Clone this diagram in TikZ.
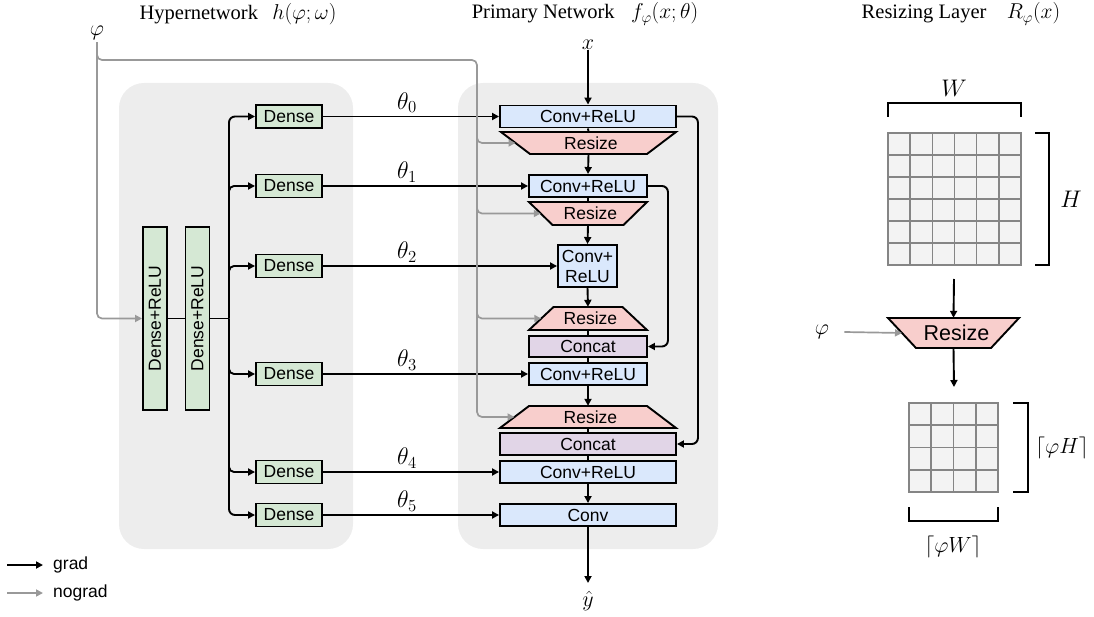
\RequirePackage{fix-cm}
\documentclass[tikz,border=0pt]{standalone}
\usepackage{fontspec}
\setmainfont{Liberation Serif}
\setsansfont{Liberation Sans}
\usetikzlibrary{arrows.meta,calc}
\definecolor{convc}{HTML}{DAE8FC}
\definecolor{resc}{HTML}{F8CECC}
\definecolor{catc}{HTML}{E1D5E7}
\definecolor{denc}{HTML}{D5E8D4}
\definecolor{bgc}{HTML}{EDEDED}
\definecolor{grayc}{HTML}{999999}
\definecolor{gridf}{HTML}{F3F3F3}
\definecolor{gridl}{HTML}{858585}
\newcommand\sfs{\fontsize{17.5}{20}\selectfont\sffamily}
\newcommand\sfb{\fontsize{21.5}{24}\selectfont\sffamily}
\newcommand\bigs{\fontsize{20.5}{24}\selectfont}
\newcommand\mths{\fontsize{22}{26}\selectfont}
\newcommand\mthb{\fontsize{24}{28}\selectfont}
\newcommand\trapz[7]{%
  \draw[line width=1.9pt, fill=resc] ({#2-#4/2},{#3-#6/2}) -- ({#2+#4/2},{#3-#6/2}) -- ({#2+#5/2},{#3+#6/2}) -- ({#2-#5/2},{#3+#6/2}) -- cycle;
  \node[inner sep=0pt, minimum width={max(#4,#5)}, minimum height=#6] (#1) at (#2,#3) {#7 Resize};
  \coordinate (#1-l) at ({#2-(#4+#5)/4},#3);
}
\begin{document}
\begin{tikzpicture}[x=1pt,y=-1pt,
  box/.style={draw=black, line width=1.9pt, inner sep=0pt, font=\sfs},
  conv/.style={box, fill=convc},
  cat/.style={box, fill=catc},
  dens/.style={box, fill=denc, minimum width=66, minimum height=23},
  arr/.style={line width=1.9pt, -{Triangle[length=7pt,width=7pt]}},
  ln/.style={line width=1.9pt},
  garr/.style={line width=1.7pt, draw=grayc, -{Triangle[length=7pt,width=7pt]}, rounded corners=5pt},
  mlab/.style={font=\mths, inner sep=0pt},
  tlab/.style={font=\mthb, inner sep=0pt},
  ttl/.style={font=\bigs, inner sep=0pt},
  bg/.style={fill=bgc, rounded corners=25pt},
  gridline/.style={draw=gridl, line width=1.5pt},
  brk/.style={line width=2pt}
]
\useasboundingbox (0,0) rectangle (1094,617);
% backgrounds
\fill[bg] (119,83) rectangle (353,549);
\fill[bg] (458,83) rectangle (718,549);
% titles
\node[ttl] (t1) at (238,14) {Hypernetwork\hspace{0.7em}{\fontsize{21.5}{24}\selectfont$h(\varphi;\omega)$}};
\node[ttl] (t2) at (585,14) {Primary Network\hspace{0.8em}{\fontsize{21.5}{24}\selectfont$f_\varphi(x;\theta)$}};
\node[ttl] (t3) at (961,14) {Resizing Layer\hspace{1em}{\fontsize{21.5}{24}\selectfont$R_\varphi(x)$}};
% hypernetwork
\node[mlab, inner sep=2pt] (phi) at (97,33) {$\varphi$};
\node[dens, rotate=90, minimum width=183, minimum height=24] (dr1) at (155,318.5) {Dense+ReLU};
\node[dens, rotate=90, minimum width=183, minimum height=24] (dr2) at (197.5,318.5) {Dense+ReLU};
\node[dens] (d1) at (289,116.5) {Dense};
\node[dens] (d2) at (289,186) {Dense};
\node[dens] (d3) at (289,266) {Dense};
\node[dens] (d4) at (289,374) {Dense};
\node[dens] (d5) at (289,472) {Dense};
\node[dens] (d6) at (289,515) {Dense};
% primary network
\node[mlab] (x) at (588,45) {$x$};
\node[conv, minimum width=176, minimum height=22] (c1) at (588,116.5) {Conv+ReLU};
\trapz{r1}{588.5}{143}{175}{117}{22}{\sfs}
\node[conv, minimum width=118, minimum height=22] (c2) at (588,186) {Conv+ReLU};
\trapz{r2}{588}{213.5}{118}{71}{23}{\sfs}
\node[conv, minimum width=59, minimum height=42, align=center] (c3) at (587.5,266) {Conv+\\ReLU};
\trapz{r3}{588}{318.5}{69}{118}{23}{\sfs}
\node[cat, minimum width=118, minimum height=21] (k1) at (588,346.5) {Concat};
\node[conv, minimum width=118, minimum height=22] (c4) at (588,374) {Conv+ReLU};
\trapz{r4}{588}{417}{118}{176}{22}{\sfs}
\node[cat, minimum width=176, minimum height=22] (k2) at (588,444) {Concat};
\node[conv, minimum width=176, minimum height=22] (c5) at (588,472) {Conv+ReLU};
\node[conv, minimum width=176, minimum height=22] (c6) at (588,515) {Conv};
\node[mlab] (yh) at (588,601) {$\hat{y}$};
\coordinate (yin) at (588,583);
% primary connectors
\draw[arr] (x.south) -- (c1.north);
\draw[ln] (c1.south) -- (r1.north);
\draw[arr] (r1.south) -- (c2.north);
\draw[ln] (c2.south) -- (r2.north);
\draw[arr] (r2.south) -- (c3.north);
\draw[arr] (c3.south) -- (r3.north);
\draw[ln] (r3.south) -- (k1.north);
\draw[ln] (k1.south) -- (c4.north);
\draw[arr] (c4.south) -- (r4.north);
\draw[ln] (r4.south) -- (k2.north);
\draw[ln] (k2.south) -- (c5.north);
\draw[arr] (c5.south) -- (c6.north);
\draw[arr] (c6.south) -- (yin);
\draw[arr, rounded corners=6pt] (c1.east) -- ++(21,0) |- (k2.east);
\draw[arr, rounded corners=6pt] (c2.east) -- ++(20,0) |- (k1.east);
% hypernetwork connectors
\coordinate (tj) at (229,318.5);
\draw[ln] (dr1.south) -- (dr2.north);
\draw[ln] (dr2.south) -- (tj);
\draw[arr, rounded corners=6pt] (tj) |- (d1.west);
\draw[arr, rounded corners=6pt] (tj) |- (d6.west);
\draw[arr, rounded corners=5pt] ($(tj |- d2.west)+(0,10)$) |- (d2.west);
\draw[arr, rounded corners=5pt] ($(tj |- d3.west)+(0,10)$) |- (d3.west);
\draw[arr, rounded corners=5pt] ($(tj |- d4.west)+(0,-10)$) |- (d4.west);
\draw[arr, rounded corners=5pt] ($(tj |- d5.west)+(0,-10)$) |- (d5.west);
% theta connectors
\draw[arr] (d1.east) -- (c1.west);
\draw[arr] (d2.east) -- (c2.west);
\draw[arr] (d3.east) -- (c3.west);
\draw[arr] (d4.east) -- (c4.west);
\draw[arr] (d5.east) -- (c5.west);
\draw[arr] (d6.east) -- (c6.west);
\node[tlab, anchor=south] (th0) at (407,113) {$\theta_0$};
\node[tlab, anchor=south] (th1) at (407,182.5) {$\theta_1$};
\node[tlab, anchor=south] (th2) at (407,262.5) {$\theta_2$};
\node[tlab, anchor=south] (th3) at (407,370.5) {$\theta_3$};
\node[tlab, anchor=south] (th4) at (407,468.5) {$\theta_4$};
\node[tlab, anchor=south] (th5) at (407,511.5) {$\theta_5$};
% gray connectors
\coordinate (gj) at (97,60);
\coordinate (gc) at (477,60);
\draw[garr] (phi.south) |- (dr1.north);
\draw[garr] ($(gj)+(0,-8)$) |- (gc) |- (r4-l);
\draw[garr] ($(gc |- r1-l)+(0,-9)$) |- (r1-l);
\draw[garr] ($(gc |- r2-l)+(0,-9)$) |- (r2-l);
\draw[garr] ($(gc |- r3-l)+(0,-9)$) |- (r3-l);
% legend
\coordinate (lg1) at (7,565);
\coordinate (lg2) at (7,593);
\node[font=\sfs, anchor=west, inner sep=0pt] (lt1) at (53,565) {grad};
\node[font=\sfs, anchor=west, inner sep=0pt] (lt2) at (53,593) {nograd};
\draw[arr] (lg1) -- ++(36,0);
\draw[garr] (lg2) -- ++(36,0);
% resizing layer panel
\node[fill=gridf, minimum width=133, minimum height=132, inner sep=0pt] (g1) at (954.5,199) {};
\foreach \i in {1,...,5} {
  \draw[gridline] ($(g1.north west)!\i/6!(g1.north east)$) -- ($(g1.south west)!\i/6!(g1.south east)$);
  \draw[gridline] ($(g1.north west)!\i/6!(g1.south west)$) -- ($(g1.north east)!\i/6!(g1.south east)$);
}
\draw[gridline] (g1.north west) rectangle (g1.south east);
\draw[brk] (888,117) -- (888,103) -- (1021,103) -- (1021,117);
\draw[brk] (1035,133) -- (1049,133) -- (1049,265) -- (1035,265);
\node[tlab] (wl) at (954,88) {$W$};
\node[tlab] (hl) at (1071,199) {$H$};
\coordinate (ra) at (954,279);
\trapz{rr}{953.5}{333}{131}{75}{30}{\sfb}
\node[mlab, inner sep=2pt] (phi2) at (822,332) {$\varphi$};
\coordinate (rb) at (954,387);
\draw[arr] (ra) -- (rr.north);
\draw[arr] (rr.south) -- (rb);
\draw[garr] ($(phi2.east)+(13,0)$) -- (rr-l);
\node[fill=gridf, minimum width=89, minimum height=89, inner sep=0pt] (g2) at (953.5,447.5) {};
\foreach \i in {1,...,3} {
  \draw[gridline] ($(g2.north west)!\i/4!(g2.north east)$) -- ($(g2.south west)!\i/4!(g2.south east)$);
  \draw[gridline] ($(g2.north west)!\i/4!(g2.south west)$) -- ($(g2.north east)!\i/4!(g2.south east)$);
}
\draw[gridline] (g2.north west) rectangle (g2.south east);
\draw[brk] (1013,403) -- (1028,403) -- (1028,492) -- (1013,492);
\draw[brk] (909,507) -- (909,521) -- (998,521) -- (998,507);
\node[mlab] (phl) at (1062,448) {$\lceil\varphi H\rceil$};
\node[mlab] (pwl) at (953,547) {$\lceil\varphi W\rceil$};
\end{tikzpicture}
\end{document}
